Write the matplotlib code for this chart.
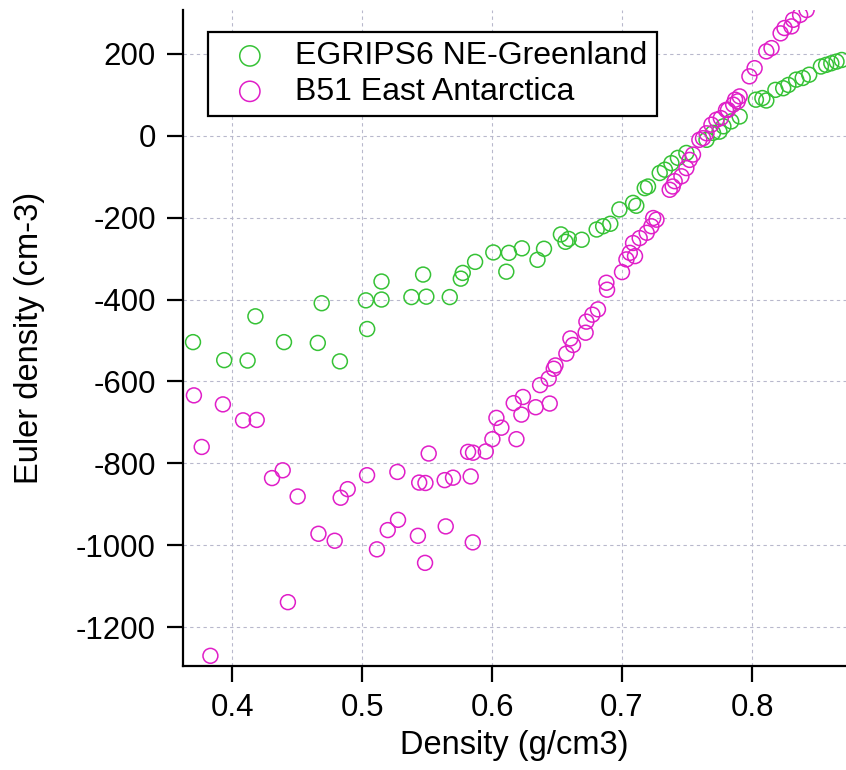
import numpy as np
import matplotlib.pyplot as plt

plt.rcParams['font.family'] = ['Liberation Sans', 'DejaVu Sans']
plt.rcParams['axes.unicode_minus'] = False

# EGRIPS6 NE-Greenland
egrips_x = [0.370, 0.394, 0.412, 0.418, 0.440, 0.466, 0.469, 0.483, 0.503, 0.504,
            0.515, 0.515, 0.538, 0.547, 0.5495, 0.5675, 0.576, 0.5775, 0.587, 0.601,
            0.611, 0.613, 0.623, 0.635, 0.640, 0.653, 0.6565, 0.659, 0.669, 0.6805,
            0.6855, 0.691, 0.698, 0.7085, 0.711, 0.7175, 0.720, 0.729, 0.733, 0.738,
            0.743, 0.7495, 0.765, 0.770, 0.775, 0.778, 0.784, 0.7905, 0.803, 0.808,
            0.811, 0.818, 0.824, 0.828, 0.834, 0.839, 0.844, 0.853, 0.857, 0.861,
            0.865, 0.869]
egrips_y = [-504, -548, -549, -441, -504, -506, -409, -551, -402, -472,
            -356, -400, -394, -339, -393, -394, -349, -335, -308, -285,
            -332, -286, -275, -303, -276, -241, -259, -252, -254, -229,
            -221, -215, -180, -164, -171, -128, -124, -91, -83, -67,
            -54, -42, -10, 7, 10, 23, 35, 47, 88, 92,
            86, 112, 116, 124, 137, 141, 149, 169, 173, 177,
            181, 185]

# B51 East Antarctica
b51_x = [0.3707, 0.3767, 0.393, 0.4085, 0.419, 0.3834, 0.4308, 0.439, 0.443, 0.4505,
         0.4665, 0.479, 0.4836, 0.489, 0.5039, 0.5115, 0.5198, 0.5272, 0.5277, 0.543,
         0.544, 0.5488, 0.5513, 0.5485, 0.5636, 0.5644, 0.570, 0.5816, 0.5836, 0.5852,
         0.5854, 0.5952, 0.6003, 0.6034, 0.6072, 0.6167, 0.6188, 0.6226, 0.6238, 0.6336,
         0.637, 0.6436, 0.6444, 0.6475, 0.6488, 0.6572, 0.6603, 0.6623, 0.672, 0.6726,
         0.6772, 0.6815, 0.688, 0.6885, 0.700, 0.7034, 0.706, 0.710, 0.7085, 0.7136,
         0.719, 0.7226, 0.724, 0.7265, 0.7367, 0.739, 0.7405, 0.7457, 0.7495, 0.752,
         0.7546, 0.7595, 0.7623, 0.765, 0.7688, 0.7726, 0.776, 0.780, 0.7815, 0.7855,
         0.787, 0.789, 0.7905, 0.798, 0.802, 0.811, 0.815, 0.822, 0.825, 0.8303,
         0.8316, 0.837, 0.842]
b51_y = [-634, -760, -656, -695, -694, -1270, -836, -817, -1139, -881,
         -972, -989, -884, -863, -829, -1010, -963, -821, -938, -977,
         -847, -848, -776, -1043, -841, -954, -835, -772, -832, -993,
         -774, -771, -741, -689, -713, -653, -741, -681, -638, -663,
         -609, -593, -654, -569, -561, -532, -495, -511, -481, -454,
         -437, -424, -359, -376, -333, -302, -286, -294, -262, -250,
         -237, -221, -201, -205, -132, -124, -111, -99, -79, -59,
         -46, -10, -6, 6, 27, 39, 43, 63, 63, 76,
         88, 84, 96, 145, 165, 206, 214, 250, 263, 267,
         283, 295, 307]

fig = plt.figure(figsize=(8.46, 7.70), dpi=100)
ax = fig.add_axes([0.2163, 0.135, 0.7837, 0.852])

ax.scatter(egrips_x, egrips_y, s=115, facecolors='none', edgecolors='#36c236',
           linewidths=1.1, label='EGRIPS6 NE-Greenland', zorder=3)
ax.scatter(b51_x, b51_y, s=115, facecolors='none', edgecolors='#e01ec8',
           linewidths=1.1, label='B51 East Antarctica', zorder=3)

ax.set_xlim(0.3623, 0.8723)
ax.set_ylim(-1295, 307)
ax.set_xticks([0.4, 0.5, 0.6, 0.7, 0.8])
ax.set_yticks([-1200, -1000, -800, -600, -400, -200, 0, 200])

ax.grid(True, color='#b8b8cc', linestyle=(0, (3, 3)), linewidth=0.8)
ax.set_axisbelow(True)

for side in ['top', 'right']:
    ax.spines[side].set_visible(False)
for side in ['left', 'bottom']:
    ax.spines[side].set_linewidth(1.6)

ax.tick_params(axis='both', direction='out', length=11.5, width=1.6, labelsize=22.5)
ax.tick_params(axis='y', pad=8)
ax.tick_params(axis='x', pad=8)

ax.set_xlabel('Density (g/cm3)', fontsize=23.5, labelpad=5)
ax.set_ylabel('Euler density (cm-3)', fontsize=23.5, labelpad=22)

leg = ax.legend(loc='upper left', bbox_to_anchor=(0.0382, 0.9669), borderaxespad=0,
                fontsize=23, fancybox=False, edgecolor='black', framealpha=1,
                handletextpad=0.41, borderpad=0.3, labelspacing=0.17,
                handlelength=2.0, markerscale=1.36)
leg.get_frame().set_linewidth(1.6)

plt.savefig('out.png', dpi=100)
